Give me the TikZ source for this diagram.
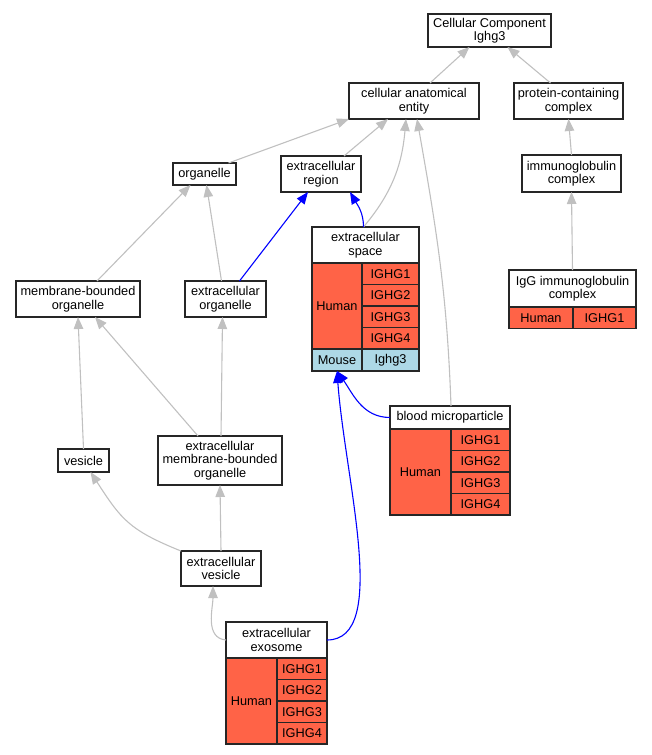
\documentclass[tikz,border=0pt]{standalone}
\usepackage{fontspec}
\setmainfont{Liberation Sans}
\usepackage{tikz}
\usetikzlibrary{shapes,arrows}
\usetikzlibrary{arrows.meta}
\usetikzlibrary{positioning}
\definecolor{tomato}{HTML}{FF6347}
\definecolor{lightblue}{HTML}{ADD8E6}
\definecolor{edgegray}{HTML}{C0C0C0}
\tikzstyle{term} = [draw=black!85, fill=white, rectangle, align=center,
inner sep=1pt, outer sep=0pt, line width=1.2pt,
font=\fontsize{12.75pt}{13.5pt}\selectfont]
\tikzstyle{hcell} = [term, fill=tomato, inner sep=0pt]
\tikzstyle{mcell} = [term, fill=lightblue, inner sep=0pt]
\tikzstyle{line} = [draw, edgegray, line width=1.1pt, -{Triangle[length=12pt, width=9.5pt]}]

\begin{document}
\begin{tikzpicture}[x=1pt, y=-1pt]
    \useasboundingbox (0,0) rectangle (651,755);
    %% Terms
    \node [term, minimum width=123, minimum height=33] (CC) at (489.5,30.5) {Cellular Component\\Ighg3};
    \node [term, minimum width=130, minimum height=36] (CAE) at (414,101) {cellular anatomical\\entity};
    \node [term, minimum width=109, minimum height=36] (PCC) at (568.5,101) {protein-containing\\complex};
    \node [term, minimum width=63, minimum height=22] (organelle) at (204.5,174) {organelle};
    \node [term, minimum width=80, minimum height=36] (ER) at (321,174) {extracellular\\region};
    \node [term, minimum width=99, minimum height=37] (IC) at (571.5,173.5) {immunoglobulin\\complex};
    \node [term, minimum width=124, minimum height=36] (MBO) at (78,299) {membrane-bounded\\organelle};
    \node [term, minimum width=81, minimum height=36] (EO) at (225.5,299) {extracellular\\organelle};
    \node [term, minimum width=51, minimum height=23] (vesicle) at (83.5,460.5) {vesicle};
    \node [term, minimum width=124, minimum height=49] (EMBO) at (220,460.5) {extracellular\\membrane-bounded\\organelle};
    \node [term, minimum width=80, minimum height=35] (EV) at (221,568.5) {extracellular\\vesicle};
    %% extracellular space
    \node [term, minimum width=107, minimum height=36] (ES) at (365.5,245) {extracellular\\space};
    \node [hcell, minimum width=50, minimum height=86, below=0pt of ES.south west, anchor=north west] (esH) {Human};
    \node [hcell, minimum width=57, minimum height=21.5, anchor=north west] (esG1) at (esH.north east) {IGHG1};
    \node [hcell, minimum width=57, minimum height=21.5, below=0pt of esG1] (esG2) {IGHG2};
    \node [hcell, minimum width=57, minimum height=21.5, below=0pt of esG2] (esG3) {IGHG3};
    \node [hcell, minimum width=57, minimum height=21.5, below=0pt of esG3] (esG4) {IGHG4};
    \node [mcell, minimum width=50, minimum height=22, below=0pt of esH.south west, anchor=north west] (esM) {Mouse};
    \node [mcell, minimum width=57, minimum height=22, anchor=north west] (esM1) at (esM.north east) {Ighg3};
    %% IgG immunoglobulin complex
    \node [term, minimum width=127, minimum height=37] (IgG) at (572.5,288.5) {IgG immunoglobulin\\complex};
    \node [hcell, minimum width=64, minimum height=21.5, below=0pt of IgG.south west, anchor=north west] (igH) {Human};
    \node [hcell, minimum width=63, minimum height=21.5, anchor=north west] (igG1) at (igH.north east) {IGHG1};
    %% blood microparticle
    \node [term, minimum width=120, minimum height=23] (BM) at (450,417.5) {blood microparticle};
    \node [hcell, minimum width=61, minimum height=86, below=0pt of BM.south west, anchor=north west] (bmH) {Human};
    \node [hcell, minimum width=59, minimum height=21.5, anchor=north west] (bmG1) at (bmH.north east) {IGHG1};
    \node [hcell, minimum width=59, minimum height=21.5, below=0pt of bmG1] (bmG2) {IGHG2};
    \node [hcell, minimum width=59, minimum height=21.5, below=0pt of bmG2] (bmG3) {IGHG3};
    \node [hcell, minimum width=59, minimum height=21.5, below=0pt of bmG3] (bmG4) {IGHG4};
    %% extracellular exosome
    \node [term, minimum width=101, minimum height=36] (EE) at (276.5,640) {extracellular\\exosome};
    \node [hcell, minimum width=51, minimum height=86, below=0pt of EE.south west, anchor=north west] (eeH) {Human};
    \node [hcell, minimum width=50, minimum height=21.5, anchor=north west] (eeG1) at (eeH.north east) {IGHG1};
    \node [hcell, minimum width=50, minimum height=21.5, below=0pt of eeG1] (eeG2) {IGHG2};
    \node [hcell, minimum width=50, minimum height=21.5, below=0pt of eeG2] (eeG3) {IGHG3};
    \node [hcell, minimum width=50, minimum height=21.5, below=0pt of eeG3] (eeG4) {IGHG4};
    %% Arrows
    \path [line] ([xshift=16]CAE.north) -- ([xshift=-20]CC.south);
    \path [line] ([xshift=-18]PCC.north) -- ([xshift=18]CC.south);
    \path [line] ([xshift=24]organelle.north) -- (CAE.south west);
    \path [line] ([xshift=23]ER.north) -- ([xshift=-26]CAE.south);
    \path [line] ([xshift=-2]ES.north) to [out=50, in=-95] ([xshift=-8]CAE.south);
    \path [line] ([xshift=1]BM.north) to [out=92, in=-80] ([xshift=3]CAE.south);
    \path [line] (IC.north) -- (PCC.south);
    \path [line] (IgG.north) -- (IC.south);
    \path [line, blue] ([xshift=-2]ES.north) to [out=90, in=-60] ([xshift=29]ER.south);
    \path [line, blue] ([xshift=14]EO.north) -- ([xshift=-13]ER.south);
    \path [line] ([xshift=19]MBO.north) -- ([xshift=-14]organelle.south);
    \path [line] ([xshift=-4]EO.north) -- ([xshift=2]organelle.south);
    \path [line] (vesicle.north) -- (MBO.south);
    \path [line] ([xshift=-22]EMBO.north) -- ([xshift=17]MBO.south);
    \path [line] ([xshift=1]EMBO.north) -- ([xshift=-3]EO.south);
    \path [line] (EV.north west) to [out=158, in=-57, looseness=1.2] ([xshift=7]vesicle.south);
    \path [line] (EV.north) -- (EMBO.south);
    \path [line] (EE.west) to [out=175, in=-90] ([xshift=-8]EV.south);
    \path [line, blue] (BM.west) to [out=180, in=-55] (esM.south);
    \path [line, blue] (EE.east) .. controls (390,640) and (345,480) .. (esM.south);
\end{tikzpicture}
\end{document}
